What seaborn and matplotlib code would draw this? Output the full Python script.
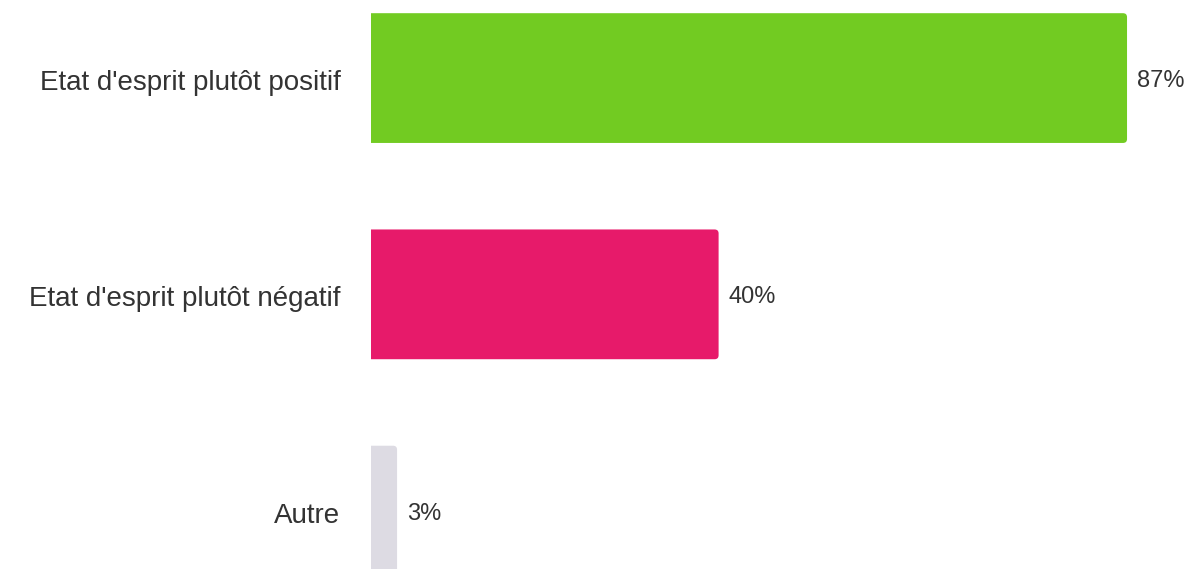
import matplotlib
matplotlib.use("Agg")
import matplotlib.pyplot as plt
from matplotlib.patches import FancyBboxPatch
from matplotlib.transforms import ScaledTranslation
import seaborn as sns
import pandas as pd

categories = ["Etat d'esprit plutôt positif", "Etat d'esprit plutôt négatif", "Autre"]
values = [87, 40, 3]
colors = ["#72CB22", "#E71A6A", "#DDDBE3"]

df = pd.DataFrame({"cat": categories, "val": values})

sns.set_theme(style="white")
plt.rcParams['font.family'] = ['Liberation Sans', 'DejaVu Sans']

W, H = 1189, 569
fig = plt.figure(figsize=(W / 100, H / 100), dpi=100)
fig.set_facecolor('white')
left = 371
ax = fig.add_axes([left / W, 0, 1 - left / W, 1])

px_per_unit = 8.69
sns.barplot(data=df, x="val", y="cat", hue="cat", palette=colors,
            width=0.6, legend=False, ax=ax, saturation=1)

ax.set_xlim(0, (W - left) / px_per_unit)
ax.set_ylim(2.270, -0.361)

# round the right-hand corners; left corners get clipped by the axes edge
r_x = 4 / px_per_unit
r_y = 4 / 216.25
for p in list(ax.patches):
    x, y, w, h = p.get_x(), p.get_y(), p.get_width(), p.get_height()
    c = p.get_facecolor()
    p.set_visible(False)
    ax.add_patch(FancyBboxPatch((x - 2 * r_x, y), w + 2 * r_x, h,
                                boxstyle=f"round,pad=0,rounding_size={r_x}",
                                mutation_aspect=r_y / r_x,
                                fc=c, ec='none'))

for i, v in enumerate(values):
    ax.text(v + 10 / px_per_unit, i + 0.014, f"{v}%", va='center', ha='left',
            fontsize=17, color='#333333')

ax.set_xlabel('')
ax.set_ylabel('')
ax.set_xticks([])
ax.tick_params(axis='y', length=0, pad=22, labelsize=20, labelcolor='#333333')
shift = ScaledTranslation(0, -2 / 100, fig.dpi_scale_trans)
for lbl in ax.get_yticklabels():
    lbl.set_transform(lbl.get_transform() + shift)
for s in ax.spines.values():
    s.set_visible(False)

fig.savefig('out.png', dpi=100, facecolor='white')
